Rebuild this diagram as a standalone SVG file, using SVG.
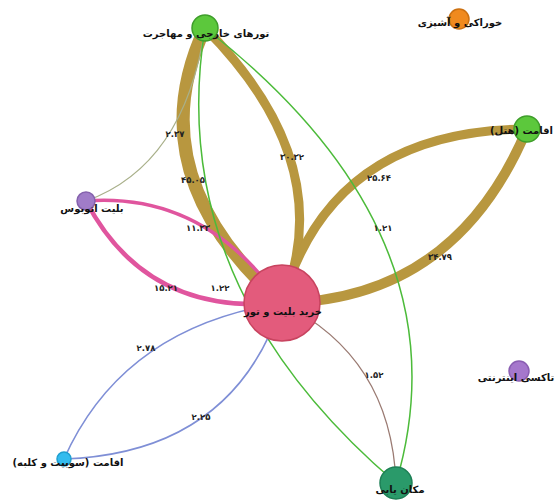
<svg xmlns="http://www.w3.org/2000/svg" width="555" height="501" viewBox="0 0 555 501">
<style>
.e{fill:none;stroke-linecap:butt}
.tan{stroke:#b8973f}
.pink{stroke:#e0559e}
.blue{stroke:#7f8fd6;stroke-width:1.6}
.green{stroke:#4cbb3a;stroke-width:1.5}
.brown{stroke:#9a7a72;stroke-width:1.3}
.olive{stroke:#a9b08a;stroke-width:1.3}
.el{font-family:"DejaVu Sans",sans-serif;font-size:8.5px;font-weight:bold;fill:#222;text-anchor:middle}
.nl{font-family:"DejaVu Sans",sans-serif;font-size:10px;font-weight:bold;fill:#111;text-anchor:middle}
.n{stroke-width:1.5}
</style>
<rect width="555" height="501" fill="#ffffff"/>
<g id="connectors">
<path class="e tan" stroke-width="13" d="M205,28 Q136.5,174.5 282,303"/>
<path class="e tan" stroke-width="9" d="M205,28 Q340.5,164.5 282,303"/>
<path class="e tan" stroke-width="9" d="M282,303 Q330,130 527,129"/>
<path class="e tan" stroke-width="10" d="M282,303 Q455,300 527,129"/>
<path class="e pink" stroke-width="3.5" d="M86,201 Q206,192 282,303"/>
<path class="e pink" stroke-width="4.5" d="M86,201 Q146,316 282,303"/>
<path class="e olive" d="M86,201 Q184.5,165.5 205,28"/>
<path class="e green" d="M205,28 Q469.5,234.5 396,483"/>
<path class="e green" d="M205,28 Q163.5,284.5 396,483"/>
<path class="e blue" d="M282,303 Q123,327 64,459"/>
<path class="e blue" d="M282,303 Q233,453 64,459"/>
<path class="e brown" d="M282,303 Q391,357 396,483"/>
<text class="el" x="175" y="137">۲.۳۷</text>
<text class="el" x="193" y="183">۴۵.۰۵</text>
<text class="el" x="292" y="160">۳۰.۳۲</text>
<text class="el" x="198" y="231">۱۱.۳۳</text>
<text class="el" x="166" y="291">۱۵.۲۱</text>
<text class="el" x="220" y="291">۱.۲۲</text>
<text class="el" x="379" y="181">۲۵.۶۴</text>
<text class="el" x="383" y="231">۱.۲۱</text>
<text class="el" x="440" y="260">۳۴.۷۹</text>
<text class="el" x="146" y="351">۲.۷۸</text>
<text class="el" x="201" y="420">۲.۲۵</text>
<text class="el" x="374" y="378">۱.۵۲</text>
</g>
<g id="node-center">
<circle class="n" cx="282" cy="303" r="38" fill="#e35b7c" stroke="#c8435f"/>
<text class="nl" x="283" y="315">خرید بلیت و تور</text>
</g>
<g id="node-tours">
<circle class="n" cx="205" cy="28" r="13" fill="#5cc83c" stroke="#3f9e2b"/>
<text class="nl" x="206" y="37">تورهای خارجی و مهاجرت</text>
</g>
<g id="node-food">
<circle class="n" cx="459" cy="19" r="10" fill="#f08a1e" stroke="#cc7010"/>
<text class="nl" x="460" y="26">خوراکی و آشپزی</text>
</g>
<g id="node-hotel">
<circle class="n" cx="527" cy="129" r="13" fill="#5cc83c" stroke="#3f9e2b"/>
<text class="nl" x="553" y="134" style="text-anchor:end">اقامت (هتل)</text>
</g>
<g id="node-bus">
<circle class="n" cx="86" cy="201" r="9" fill="#a07cc8" stroke="#8562ad"/>
<text class="nl" x="92" y="212">بلیت اتوبوس</text>
</g>
<g id="node-taxi">
<circle class="n" cx="519" cy="371" r="10" fill="#a577cc" stroke="#8a5eb2"/>
<text class="nl" x="516" y="381">تاکسی اینترنتی</text>
</g>
<g id="node-suite">
<circle class="n" cx="64" cy="459" r="7" fill="#33bbee" stroke="#1e9fd0"/>
<text class="nl" x="68" y="466">اقامت (سوییت و کلبه)</text>
</g>
<g id="node-location">
<circle class="n" cx="396" cy="483" r="16" fill="#2a9a6a" stroke="#1d7f55"/>
<text class="nl" x="400" y="493">مکان یابی</text>
</g>
</svg>
